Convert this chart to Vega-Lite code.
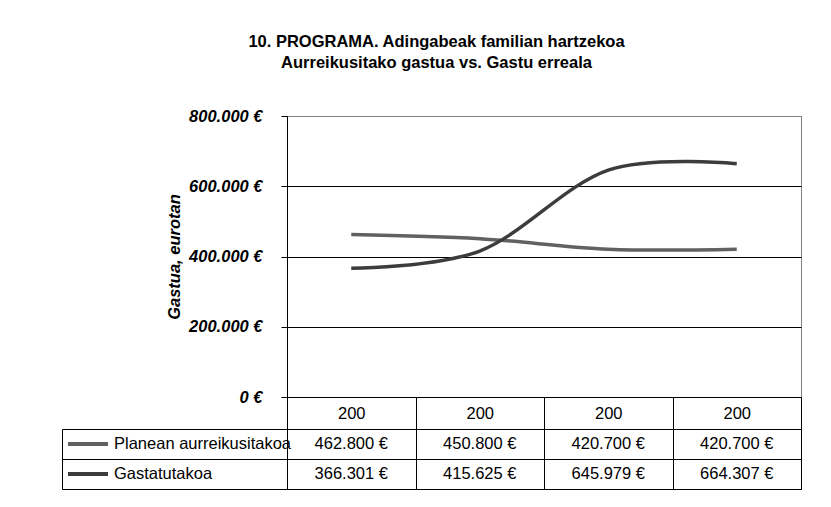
{
  "$schema": "https://vega.github.io/schema/vega-lite/v6.json",
  "background": "white",
  "padding": {"left": 61, "top": 33, "right": 10, "bottom": 10},
  "config": {
    "font": "Liberation Sans",
    "locale": {"number": {"decimal": ",", "thousands": ".", "grouping": [3], "currency": ["", " €"]}},
    "axis": {"labelFont": "Liberation Sans", "titleFont": "Liberation Sans", "labelColor": "#000", "titleColor": "#000", "domainColor": "#000", "tickColor": "#000", "labelFlush": false, "labelOverlap": false},
    "legend": {"labelFont": "Liberation Sans"}
  },
  "datasets": {
    "gastua": [
      {"zutabea": 1, "saila": "Planean aurreikusitakoa", "balioa": 462800},
      {"zutabea": 2, "saila": "Planean aurreikusitakoa", "balioa": 450800},
      {"zutabea": 3, "saila": "Planean aurreikusitakoa", "balioa": 420700},
      {"zutabea": 4, "saila": "Planean aurreikusitakoa", "balioa": 420700},
      {"zutabea": 1, "saila": "Gastatutakoa", "balioa": 366301},
      {"zutabea": 2, "saila": "Gastatutakoa", "balioa": 415625},
      {"zutabea": 3, "saila": "Gastatutakoa", "balioa": 645979},
      {"zutabea": 4, "saila": "Gastatutakoa", "balioa": 664307}
    ]
  },
  "title": {
    "text": ["10. PROGRAMA. Adingabeak familian hartzekoa", "Aurreikusitako gastua vs. Gastu erreala\u00a0\u00a0\u00a0\u00a0\u00a0\u00a0\u00a0\u00a0\u00a0"],
    "font": "Liberation Sans",
    "fontSize": 16.5,
    "fontWeight": "bold",
    "color": "#000",
    "anchor": "middle",
    "dx": 5,
    "lineHeight": 21.5,
    "offset": 36
  },
  "bounds": "flush",
  "spacing": 32,
  "vconcat": [
    {
      "width": 514,
      "height": 281,
      "view": {"stroke": "#808080", "strokeWidth": 1},
      "data": {"name": "gastua"},
      "mark": {"type": "line", "interpolate": "cardinal", "strokeWidth": 3.5},
      "encoding": {
        "x": {
          "field": "zutabea", "type": "ordinal",
          "scale": {"type": "band", "paddingInner": 0, "paddingOuter": 0},
          "axis": {"title": null, "labelExpr": "datum.label === '' ? '' : '200'", "labelAngle": 0, "labelFontSize": 16.5, "labelBaseline": "middle", "labelPadding": -16, "tickBand": "extent", "tickSize": 32, "grid": false}
        },
        "y": {
          "field": "balioa", "type": "quantitative",
          "scale": {"domain": [0, 800000], "nice": false},
          "axis": {
            "title": "Gastua, eurotan", "titleFontSize": 16.5, "titleFontWeight": "bold", "titleFontStyle": "italic", "titlePadding": 6,
            "values": [0, 200000, 400000, 600000, 800000], "format": "$,.0f",
            "labelFontSize": 16.5, "labelFontWeight": "bold", "labelFontStyle": "italic", "labelPadding": 19, "tickSize": 6,
            "grid": true, "gridColor": {"condition": {"test": "datum.value >= 800000", "value": "#808080"}, "value": "#000"}
          }
        },
        "color": {
          "field": "saila", "type": "nominal",
          "scale": {"domain": ["Planean aurreikusitakoa", "Gastatutakoa"], "range": ["#616161", "#3c3c3c"]},
          "legend": {"orient": "none", "legendX": -221, "legendY": 313, "title": null, "symbolType": "stroke", "symbolSize": 1600, "symbolStrokeWidth": 4, "labelFontSize": 16.5, "labelColor": "#000", "labelOffset": 4, "padding": 0, "rowPadding": 0, "clipHeight": 30, "labelLimit": 300}
        }
      }
    },
    {
      "width": 514,
      "height": 60,
      "view": {"stroke": "#000"},
      "data": {"name": "gastua"},
      "mark": {"type": "text", "fontSize": 16.5, "color": "#000", "font": "Liberation Sans"},
      "encoding": {
        "x": {
          "field": "zutabea", "type": "ordinal",
          "scale": {"type": "band", "paddingInner": 0, "paddingOuter": 0},
          "axis": {"title": null, "labels": false, "ticks": false, "domain": false, "grid": true, "gridColor": "#000", "tickBand": "extent", "orient": "top"}
        },
        "y": {
          "field": "saila", "type": "nominal",
          "scale": {"type": "band", "domain": ["Planean aurreikusitakoa", "Gastatutakoa"], "paddingInner": 0, "paddingOuter": 0},
          "axis": {"title": null, "labels": false, "domain": true, "offset": 225, "tickSize": -225, "ticks": true, "tickBand": "extent", "grid": true, "gridColor": "#000"}
        },
        "text": {"field": "balioa", "type": "quantitative", "format": "$,.0f"}
      }
    }
  ]
}
